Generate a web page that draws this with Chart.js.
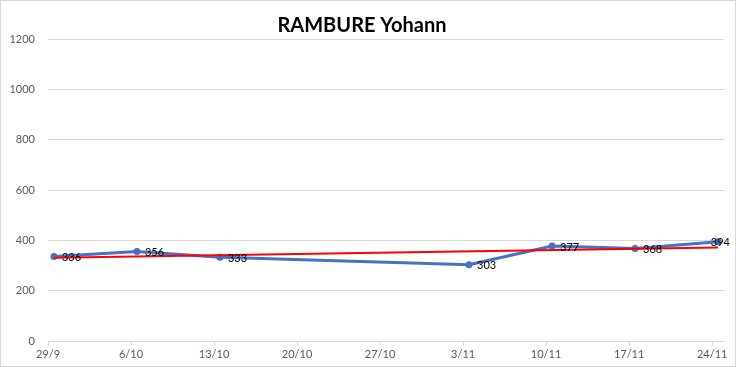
<!DOCTYPE html>
<html lang="fr">
<head>
    <meta charset="UTF-8">
    <title>RAMBURE Yohann</title>
    <style>
        body {
            margin: 0;
            background: #ffffff;
        }
        #chart {
            display: block;
        }
    </style>
</head>
<body>
    <canvas id="chart" width="736" height="367"></canvas>

    <script src="https://cdn.jsdelivr.net/npm/chart.js"></script>
    <script>
        // weekly tick labels on the date axis
        const tickLabels = ['29/9', '6/10', '13/10', '20/10', '27/10', '3/11', '10/11', '17/11', '24/11'];
        // dates that have a value, and the values
        const dates = ['29/9', '6/10', '13/10', '3/11', '10/11', '17/11', '24/11'];
        const scores = [336, 356, 333, 303, 377, 368, 394];
        // linear trend line, read at the first and last date
        const trendDates = ['29/9', '24/11'];
        const trendValues = [331, 372];
        const yTicks = [0, 200, 400, 600, 800, 1000, 1200];

        // Excel date axis: each day is one unit, points sit in the middle of their day
        function dayOf(label) {
            return tickLabels.indexOf(label) * 7 + 0.5;
        }

        const font = "Lato, 'Open Sans', sans-serif";

        const frame = {
            id: 'frame',
            beforeDraw(chart) {
                const ctx = chart.ctx;
                ctx.save();
                ctx.fillStyle = '#ffffff';
                ctx.fillRect(0, 0, chart.width, chart.height);
                ctx.strokeStyle = '#d9d9d9';
                ctx.lineWidth = 1;
                ctx.strokeRect(0.5, 0.5, chart.width - 1, chart.height - 1);
                ctx.restore();
            }
        };

        // value labels right of each point, pushed back inside the frame at the edge
        const pointLabels = {
            id: 'pointLabels',
            afterDatasetsDraw(chart) {
                const ctx = chart.ctx;
                const meta = chart.getDatasetMeta(0);
                ctx.save();
                ctx.font = '11px ' + font;
                ctx.fillStyle = '#000000';
                ctx.textAlign = 'left';
                ctx.textBaseline = 'middle';
                meta.data.forEach((pt, i) => {
                    const txt = String(scores[i]);
                    const w = ctx.measureText(txt).width;
                    const x = Math.min(pt.x + 8, chart.width - 6 - w);
                    ctx.fillText(txt, x, pt.y + 1);
                });
                ctx.restore();
            }
        };

        new Chart(document.getElementById('chart'), {
            type: 'line',
            data: {
                datasets: [{
                    label: 'RAMBURE Yohann',
                    data: dates.map((d, i) => ({ x: dayOf(d), y: scores[i] })),
                    borderColor: '#4472c4',
                    backgroundColor: '#4472c4',
                    borderWidth: 3,
                    pointRadius: 3.5,
                    pointBorderWidth: 0,
                    tension: 0,
                    order: 2
                }, {
                    label: 'Tendance',
                    data: trendDates.map((d, i) => ({ x: dayOf(d), y: trendValues[i] })),
                    borderColor: '#ff0000',
                    borderWidth: 2,
                    pointRadius: 0,
                    tension: 0,
                    order: 1
                }]
            },
            options: {
                responsive: false,
                animation: false,
                layout: { padding: { left: 0, right: 12, top: 0, bottom: 0 } },
                plugins: {
                    legend: { display: false },
                    tooltip: { enabled: false },
                    title: {
                        display: true,
                        text: 'RAMBURE Yohann',
                        color: '#000000',
                        font: { family: font, size: 20, weight: 'bold' },
                        padding: { top: 14, bottom: 1 }
                    }
                },
                scales: {
                    x: {
                        type: 'linear',
                        min: 0,
                        max: 57,
                        afterFit(scale) { scale.height = 26; },
                        afterBuildTicks(scale) {
                            scale.ticks = tickLabels.map((t, i) => ({ value: i * 7 }));
                        },
                        ticks: {
                            color: '#595959',
                            font: { family: font, size: 11 },
                            padding: 2,
                            maxRotation: 0,
                            autoSkip: false,
                            callback: (v) => tickLabels[Math.round(v / 7)]
                        },
                        grid: {
                            drawOnChartArea: false,
                            color: '#d9d9d9',
                            tickLength: 5
                        },
                        border: { color: '#d9d9d9' }
                    },
                    y: {
                        min: 0,
                        max: 1200,
                        afterFit(scale) { scale.width = 48; },
                        afterBuildTicks(scale) {
                            scale.ticks = yTicks.map(v => ({ value: v }));
                        },
                        ticks: {
                            color: '#595959',
                            font: { family: font, size: 11 },
                            padding: 13,
                            callback: (v) => String(v)
                        },
                        grid: {
                            color: '#d9d9d9',
                            drawTicks: false
                        },
                        border: { display: false }
                    }
                }
            },
            plugins: [frame, pointLabels]
        });
    </script>
</body>
</html>
